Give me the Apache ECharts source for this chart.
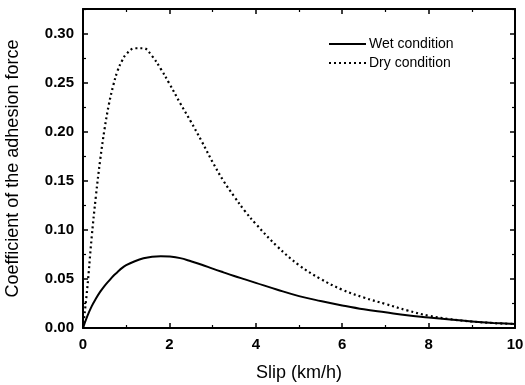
<!DOCTYPE html>
<html>
<head>
<meta charset="utf-8">
<script src="https://cdn.jsdelivr.net/npm/echarts@6/dist/echarts.min.js"></script>
<style>
html,body{margin:0;padding:0;background:#fff;}
#chart{width:525px;height:385px;}
</style>
</head>
<body>
<div id="chart"></div>
<script>
// Slip values (km/h)
const slip = [0,0.1,0.2,0.3,0.4,0.5,0.6,0.7,0.8,0.9,1.0,1.2,1.4,1.6,1.8,2.0,2.25,2.5,2.75,3.0,3.25,3.5,3.75,4.0,4.5,5.0,5.5,6.0,6.5,7.0,7.5,8.0,8.5,9.0,9.5,10];
// Coefficient of adhesion force, wet condition
const wetCondition = [0,0.012,0.022,0.030,0.037,0.043,0.048,0.053,0.057,0.061,0.064,0.068,0.071,0.0727,0.0732,0.0728,0.0712,0.068,0.0645,0.0605,0.0567,0.053,0.0495,0.046,0.039,0.0325,0.0275,0.023,0.019,0.016,0.013,0.0108,0.0086,0.0067,0.0052,0.004];
// Coefficient of adhesion force, dry condition
const dryCondition = [0,0.041,0.092,0.135,0.172,0.203,0.228,0.247,0.262,0.272,0.279,0.285,0.285,0.277,0.264,0.249,0.229,0.210,0.190,0.169,0.150,0.134,0.119,0.106,0.083,0.064,0.050,0.039,0.031,0.0245,0.018,0.0125,0.009,0.0066,0.005,0.004];
const seriesNames = ['Wet condition','Dry condition'];

const pairs = (ys) => slip.map((x,i)=>[x, ys[i]]);

const font = 'Liberation Sans, Arial, sans-serif';
const axisCommonX = {
  type:'value', min:0, max:10, interval:2,
  axisLine:{show:true, onZero:false, lineStyle:{color:'#000', width:2}},
  axisTick:{show:true, inside:true, length:5, lineStyle:{color:'#000', width:1.5}},
  minorTick:{show:true, splitNumber:2, length:3, lineStyle:{color:'#000', width:1.2}},
  splitLine:{show:false}
};
const axisCommonY = {
  type:'value', min:0, max:0.325, interval:0.05,
  axisLine:{show:true, onZero:false, lineStyle:{color:'#000', width:2}},
  axisTick:{show:true, inside:true, length:5, lineStyle:{color:'#000', width:1.5}},
  minorTick:{show:true, splitNumber:2, length:3, lineStyle:{color:'#000', width:1.2}},
  splitLine:{show:false}
};

const chart = echarts.init(document.getElementById('chart'), null, {renderer:'canvas'});
chart.setOption({
  backgroundColor:'#fff',
  animation:false,
  grid:{left:83, right:10, top:9, bottom:57, show:false, containLabel:false, outerBoundsMode:'none'},
  legend:{
    orient:'vertical', left:328, top:37, padding:0,
    itemWidth:37, itemHeight:14, itemGap:5,
    itemStyle:{opacity:0},
    textStyle:{fontFamily:font, fontSize:14, color:'#000', padding:[0,0,0,-2]},
    data:seriesNames
  },
  xAxis:[
    Object.assign({}, axisCommonX, {
      position:'bottom',
      name:'Slip (km/h)', nameLocation:'middle', nameGap:36,
      nameTextStyle:{fontFamily:font, fontSize:18, color:'#000'},
      axisLabel:{margin:9, fontFamily:font, fontSize:15, fontWeight:'bold', color:'#000'}
    }),
    Object.assign({}, axisCommonX, {position:'top', axisLabel:{show:false}})
  ],
  yAxis:[
    Object.assign({}, axisCommonY, {
      position:'left',
      name:'Coefficient of the adhesion force', nameLocation:'middle', nameGap:61,
      nameTextStyle:{fontFamily:font, fontSize:18, color:'#000'},
      axisLabel:{margin:9, fontFamily:font, fontSize:15, fontWeight:'bold', color:'#000',
        showMaxLabel:false, formatter:(v)=>v.toFixed(2)}
    }),
    Object.assign({}, axisCommonY, {position:'right', axisLabel:{show:false}})
  ],
  series:[
    {name:seriesNames[0], type:'line', data:pairs(wetCondition), smooth:0.4, symbol:'none',
     lineStyle:{color:'#000', width:2, type:'solid'}, itemStyle:{color:'#000'}},
    {name:seriesNames[1], type:'line', data:pairs(dryCondition), smooth:0.4, symbol:'none',
     lineStyle:{color:'#000', width:2.2, type:[2,3]}, itemStyle:{color:'#000'}}
  ]
});
</script>
</body>
</html>
